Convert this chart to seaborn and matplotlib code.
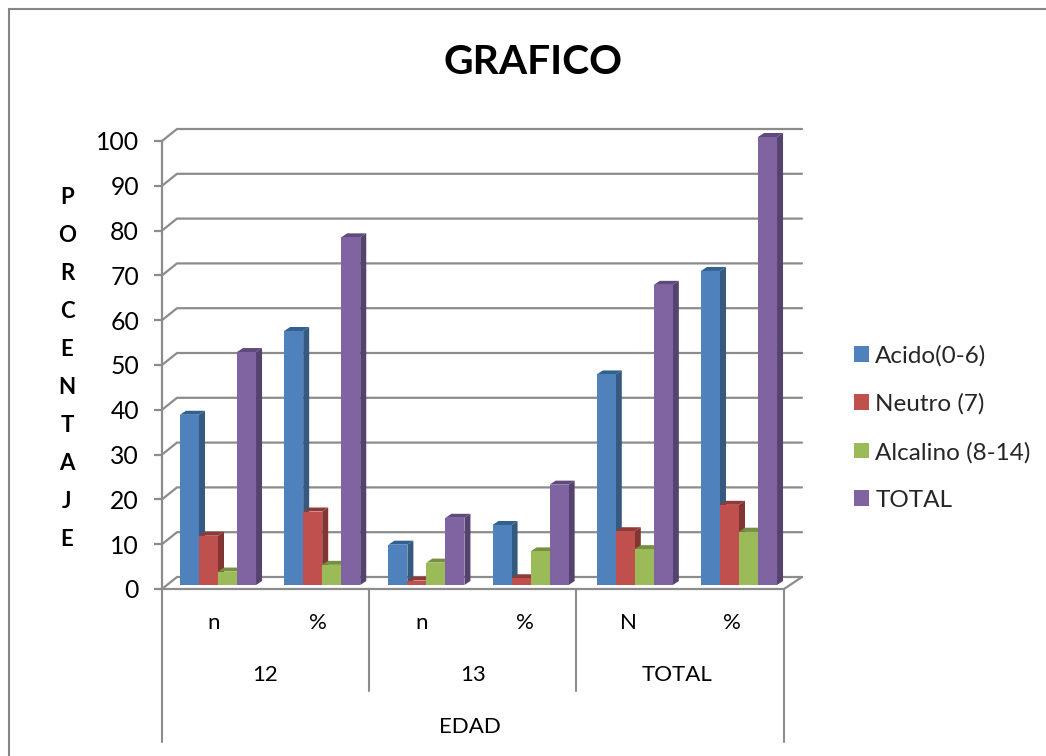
import numpy as np
import pandas as pd
import matplotlib
matplotlib.use("Agg")
import matplotlib.pyplot as plt
from matplotlib.patches import Polygon
import seaborn as sns

# Urine pH by age group: counts and percentages
columns = ["n", "%", "n ", "% ", "N", "%  "]
column_labels = ["n", "%", "n", "%", "N", "%"]
acido = [38, 56.7, 9, 13.4, 47, 70.1]
neutro = [11, 16.4, 1, 1.5, 12, 17.9]
alcalino = [3, 4.5, 5, 7.5, 8, 11.9]
total = [52, 77.6, 15, 22.4, 67, 100]
series_names = ["Acido(0-6)", "Neutro (7)", "Alcalino (8-14)", "TOTAL"]
series_values = [acido, neutro, alcalino, total]
front_colors = ["#4F81BD", "#C0504D", "#9BBB59", "#8064A2"]
side_colors = ["#35597F", "#823634", "#6C843E", "#55426F"]
top_colors = ["#32608F", "#8F3A38", "#76903F", "#5E4A7C"]
group_labels = ["12", "13", "TOTAL"]
y_ticks = np.arange(0, 101, 10)

W, H, DPI = 1046, 756, 100
LINE = "#8C8C8C"
plt.rcParams["font.family"] = ["Lato", "DejaVu Sans"]
sns.set_theme(style="white", rc={"font.family": ["Lato", "DejaVu Sans"]})

df = pd.DataFrame({
    "col": columns * len(series_names),
    "serie": np.repeat(series_names, len(columns)),
    "valor": np.concatenate(series_values),
})

fig = plt.figure(figsize=(W / DPI, H / DPI), dpi=DPI, facecolor="white")

# page-pixel layer for the frame and the multi-level category rules
page = fig.add_axes([0, 0, 1, 1], zorder=0)
page.set_xlim(0, W)
page.set_ylim(H, 0)
page.axis("off")
page.plot([1046, 8.5, 8.5], [8.5, 8.5, 756], color="#868686", lw=1.5, solid_joinstyle="miter")
for x, y_end in [(162, 742), (369, 691), (576, 691), (784, 742)]:
    page.plot([x, x], [589, y_end], color=LINE, lw=1.5)

page.text(533, 62, "GRAFICO", ha="center", va="center", fontsize=29.3, fontweight="bold", color="black")
page.text(67, 369, "\n".join("PORCENTAJE"), ha="center", va="center", fontsize=16,
          fontweight="bold", color="black", linespacing=2.0)
for x, label in zip([265, 473, 677], group_labels):
    page.text(x, 675, label, ha="center", va="center", fontsize=16, color="black")
page.text(470, 727, "EDAD", ha="center", va="center", fontsize=16, color="black")

# plotting area is the front plane of the 3-D box; bars stand slightly inside it
left, right, top, bottom = 162, 784, 141, 589
first_group = 218
px_x = 104.2
px_y = 4.48
base = (bottom - 585) / px_y
x_min = (left - first_group) / px_x
x_max = (right - first_group) / px_x
ax = fig.add_axes([left / W, 1 - bottom / H, (right - left) / W, (bottom - top) / H], zorder=1)
ax.patch.set_alpha(0)
sns.barplot(data=df, x="col", y="valor", hue="serie", order=columns, hue_order=series_names,
            palette=front_colors, width=0.73, gap=0, dodge=True, saturation=1, ax=ax,
            linewidth=0, errorbar=None)
ax.set_xlim(x_min, x_max)
ax.set_ylim(-base, (585 - top) / px_y)

depth_x = 6 / px_x
depth_y = 4 / px_y
for i, container in enumerate(ax.containers):
    for bar in container:
        bar.set_zorder(3 + i)
        bar.set_clip_on(False)
        x0, w, h = bar.get_x(), bar.get_width(), bar.get_height()
        x1 = x0 + w
        ax.add_patch(Polygon([(x1, 0), (x1 + depth_x, depth_y), (x1 + depth_x, h + depth_y), (x1, h)],
                             closed=True, fc=side_colors[i], ec="none", zorder=2.5 + i, clip_on=False))
        ax.add_patch(Polygon([(x0, h), (x0 + depth_x, h + depth_y), (x1 + depth_x, h + depth_y), (x1, h)],
                             closed=True, fc=top_colors[i], ec="none", zorder=2.5 + i, clip_on=False))

# walls: each gridline runs from the front tick, up the side wall, along the back
wall_x = 15 / px_x
wall_y = 12 / px_y
for v in y_ticks:
    yf = v - base
    ax.plot([x_min, x_min + wall_x, x_max + 18 / px_x], [yf, yf + wall_y, yf + wall_y],
            color=LINE, lw=1.6, clip_on=False, zorder=1, scalex=False, scaley=False)
ax.plot([x_max, x_max + 18 / px_x], [-base, -base + wall_y], color=LINE, lw=1.6, clip_on=False,
        zorder=1, scalex=False, scaley=False)

sns.despine(ax=ax, top=True, right=True)
for name in ("left", "bottom"):
    ax.spines[name].set_color(LINE)
    ax.spines[name].set_linewidth(1.6)
# column labels sit at the centre of each cell of the category band
ax.set_xticks((left + 52 + 103.6 * np.arange(6) - first_group) / px_x, labels=column_labels)
ax.set_yticks(y_ticks - base, labels=[str(v) for v in y_ticks])
ax.tick_params(axis="x", length=0, pad=17, labelsize=16, labelcolor="black")
ax.tick_params(axis="y", left=True, length=6, width=1.6, color=LINE, pad=10.5, labelsize=17.8, labelcolor="black")
ax.set_xlabel("")
ax.set_ylabel("")

handles, labels = ax.get_legend_handles_labels()
ax.legend(handles, labels, loc="center left", bbox_to_anchor=(854 / W, 1 - 428 / H),
          bbox_transform=fig.transFigure, frameon=False, fontsize=17.5, labelspacing=1.1,
          handlelength=0.62, handleheight=0.62, handletextpad=0.25, borderpad=0, borderaxespad=0)

fig.savefig("out.png", dpi=DPI, facecolor="white")
